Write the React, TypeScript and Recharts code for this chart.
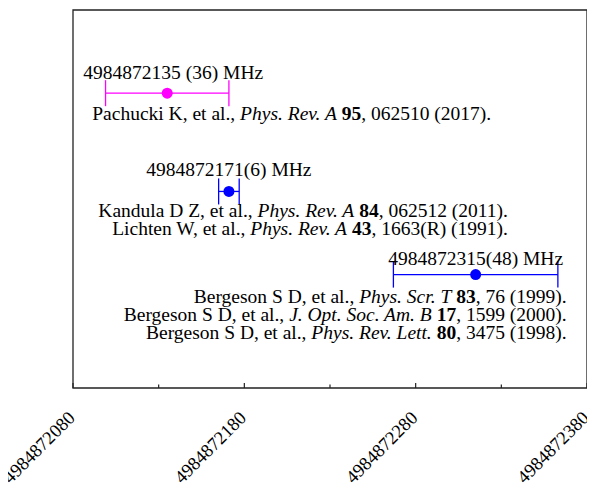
import {
    ScatterChart,
    Scatter,
    XAxis,
    YAxis,
    ErrorBar,
    ReferenceArea,
    ReferenceDot,
} from 'recharts';

// measured frequencies (MHz) and their 1-sigma uncertainties
const centers = [4984872135, 4984872171, 4984872315];
const errors = [36, 6, 48];
// vertical slot of each result (no y scale shown in the figure)
const rows = [0.78, 0.52, 0.3];
const colors = ['#ff00ff', '#0000ff', '#0000ff'];
const valueLabels = ['4984872135 (36) MHz', '4984872171(6) MHz', '4984872315(48) MHz'];

type Seg = [string, 'n' | 'i' | 'b'];

const refsPachucki: Seg[][] = [
    [['Pachucki K, et al., ', 'n'], ['Phys. Rev. A', 'i'], [' ', 'n'], ['95', 'b'], [', 062510 (2017).', 'n']],
];
const refsKandula: Seg[][] = [
    [['Kandula D Z, et al., ', 'n'], ['Phys. Rev. A', 'i'], [' ', 'n'], ['84', 'b'], [', 062512 (2011).', 'n']],
    [['Lichten W, et al., ', 'n'], ['Phys. Rev. A', 'i'], [' ', 'n'], ['43', 'b'], [', 1663(R) (1991).', 'n']],
];
const refsBergeson: Seg[][] = [
    [['Bergeson S D, et al., ', 'n'], ['Phys. Scr. T', 'i'], [' ', 'n'], ['83', 'b'], [', 76 (1999).', 'n']],
    [['Bergeson S D, et al., ', 'n'], ['J. Opt. Soc. Am. B', 'i'], [' ', 'n'], ['17', 'b'], [', 1599 (2000).', 'n']],
    [['Bergeson S D, et al., ', 'n'], ['Phys. Rev. Lett.', 'i'], [' ', 'n'], ['80', 'b'], [', 3475 (1998).', 'n']],
];
const references = [refsPachucki, refsKandula, refsBergeson];

const tickValues = [4984872080, 4984872130, 4984872180, 4984872230, 4984872280, 4984872330, 4984872380];
const tickLabels = ['4984872080', '', '4984872180', '', '4984872280', '', '4984872380'];

// annotation layout, pixels relative to each point
const layout = [
    { labelDx: 6, labelDy: -14, refDx: 324, refDy: 27 },
    { labelDx: 0, labelDy: -15, refDx: 279, refDy: 26 },
    { labelDx: 0, labelDy: -10, refDx: 91, refDy: 28 },
];

const FONT = '"Liberation Serif", "DejaVu Serif", serif';
const FRAME = '#222';

/* eslint-disable @typescript-eslint/no-explicit-any */
function AxisTick({ x, y, payload }: any) {
    const i = tickValues.indexOf(payload.value);
    const label = tickLabels[i] ?? '';
    return (
        <g>
            <line x1={x} x2={x} y1={y} y2={y - (label ? 5 : 3.5)} stroke={FRAME} strokeWidth={1.2} />
            {label && (
                <text
                    transform={`translate(${x + 3},${y + 31}) rotate(-45)`}
                    textAnchor="end"
                    fontFamily={FONT}
                    fontSize={18.5}
                    fill="#000"
                >
                    {label}
                </text>
            )}
        </g>
    );
}

function segStyle(kind: Seg[1]) {
    if (kind === 'i') return { fontStyle: 'italic' as const };
    if (kind === 'b') return { fontWeight: 700 as const };
    return {};
}

function makeNote(idx: number) {
    return (props: any) => {
        const { cx, cy } = props;
        const l = layout[idx];
        return (
            <g fontFamily={FONT} fontSize={19.5} fill="#000">
                <text x={cx + l.labelDx} y={cy + l.labelDy} textAnchor="middle">
                    {valueLabels[idx]}
                </text>
                {references[idx].map((line, j) => (
                    <text key={j} x={cx + l.refDx} y={cy + l.refDy + j * 18} textAnchor="end">
                        {line.map(([s, k], m) => (
                            <tspan key={m} {...segStyle(k)}>
                                {s}
                            </tspan>
                        ))}
                    </text>
                ))}
            </g>
        );
    };
}

const points = centers.map((c, i) => ({ x: c, y: rows[i], err: errors[i] }));

export default function App() {
    return (
        <div style={{ width: 587, height: 482 }}>
            <ScatterChart
                width={587}
                height={482}
                margin={{ top: 2, right: 8, bottom: 0, left: 65 }}
                style={{ overflow: 'visible' }}
            >
                <XAxis
                    type="number"
                    dataKey="x"
                    domain={[4984872080, 4984872380]}
                    ticks={tickValues}
                    interval={0}
                    allowDataOverflow
                    axisLine={false}
                    tickLine={false}
                    tickSize={0}
                    tickMargin={0}
                    height={102}
                    tick={<AxisTick />}
                />
                <YAxis type="number" dataKey="y" domain={[0, 1]} hide />
                <ReferenceArea
                    x1={4984872080}
                    x2={4984872380}
                    y1={0}
                    y2={1}
                    fill="none"
                    stroke={FRAME}
                    strokeWidth={1.3}
                    ifOverflow="visible"
                />
                {points.map((p, i) => (
                    <Scatter
                        key={i}
                        data={[p]}
                        fill={colors[i]}
                        isAnimationActive={false}
                        shape={(s: any) => <circle cx={s.cx} cy={s.cy} r={5.5} fill={colors[i]} />}
                    >
                        <ErrorBar dataKey="err" direction="x" width={13} stroke={colors[i]} strokeWidth={1.3} />
                    </Scatter>
                ))}
                {points.map((p, i) => (
                    <ReferenceDot key={'n' + i} x={p.x} y={p.y} r={0} ifOverflow="visible" shape={makeNote(i)} />
                ))}
            </ScatterChart>
        </div>
    );
}
